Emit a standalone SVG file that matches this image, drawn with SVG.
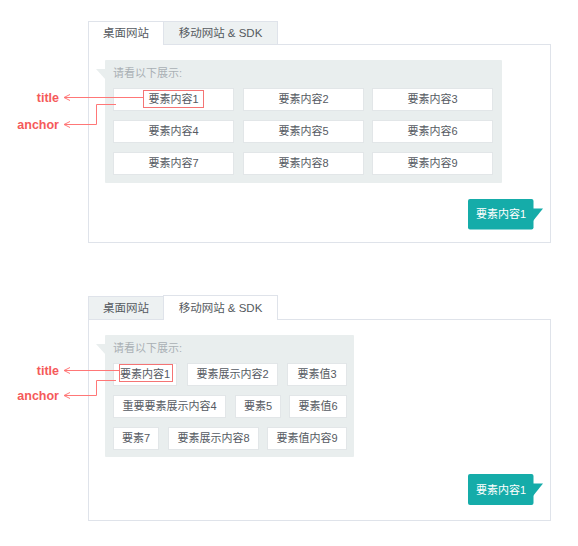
<svg xmlns="http://www.w3.org/2000/svg" width="578" height="546" viewBox="0 0 578 546">
<style>
text{font-family:"Liberation Sans","Noto Sans CJK SC",sans-serif;}
.frame{fill:#fff;stroke:#dfe3ea;stroke-width:1;}
.tabon{fill:#fff;stroke:#dfe3ea;stroke-width:1;}
.taboff{fill:#edf1f2;stroke:#dfe3ea;stroke-width:1;}
.tabt{font-size:11.5px;fill:#555a60;text-anchor:middle;}
.panel{fill:#e9eeee;}
.hint{font-size:11px;fill:#a9b0b5;}
.item{fill:#fff;stroke:#e2e6e8;stroke-width:1;}
.it{font-size:11px;fill:#555a62;text-anchor:middle;}
.hl{fill:none;stroke:#f47474;stroke-width:1;}
.btn{fill:#15aca9;}
.bt{font-size:11px;fill:#fff;text-anchor:middle;}
.lbl{font-size:12.5px;font-weight:bold;fill:#f55a5a;text-anchor:end;}
.ln{fill:none;stroke:#f77;stroke-width:1;}
</style>
<defs>
<marker id="arr" viewBox="0 0 8 8" refX="7" refY="4" markerWidth="8" markerHeight="8" markerUnits="userSpaceOnUse" orient="auto">
<path d="M1,1 L7,4 L1,7" fill="none" stroke="#f77" stroke-width="1"/>
</marker>
</defs>

<!-- Top panel -->
<g id="top-panel">
<rect class="frame" x="88.5" y="44.5" width="462" height="198"/>
<rect class="tabon" x="88.5" y="21.5" width="75" height="23"/>
<line x1="89" y1="44.5" x2="163" y2="44.5" stroke="#fff" stroke-width="1.5"/>
<rect class="taboff" x="163.5" y="21.5" width="114" height="23"/>
<text class="tabt" x="126" y="36.5">桌面网站</text>
<text class="tabt" x="220.5" y="36.5">移动网站 &amp; SDK</text>
<rect class="panel" x="105" y="60" width="397" height="123" rx="1"/>
<path class="panel" d="M96,69 L106,69 L106,80 Z"/>
<text class="hint" x="113" y="77">请看以下展示:</text>
</g>
<g id="top-item1"><rect class="item" x="113.5" y="88.5" width="120" height="22"/><text class="it" x="173.5" y="103">要素内容1</text><rect class="hl" x="143.5" y="90.5" width="60" height="17"/></g>
<g id="top-item2"><rect class="item" x="243.5" y="88.5" width="120" height="22"/><text class="it" x="303.5" y="103">要素内容2</text></g>
<g id="top-item3"><rect class="item" x="372.5" y="88.5" width="120" height="22"/><text class="it" x="432.5" y="103">要素内容3</text></g>
<g id="top-item4"><rect class="item" x="113.5" y="120.5" width="120" height="22"/><text class="it" x="173.5" y="135">要素内容4</text></g>
<g id="top-item5"><rect class="item" x="243.5" y="120.5" width="120" height="22"/><text class="it" x="303.5" y="135">要素内容5</text></g>
<g id="top-item6"><rect class="item" x="372.5" y="120.5" width="120" height="22"/><text class="it" x="432.5" y="135">要素内容6</text></g>
<g id="top-item7"><rect class="item" x="113.5" y="152.5" width="120" height="22"/><text class="it" x="173.5" y="167">要素内容7</text></g>
<g id="top-item8"><rect class="item" x="243.5" y="152.5" width="120" height="22"/><text class="it" x="303.5" y="167">要素内容8</text></g>
<g id="top-item9"><rect class="item" x="372.5" y="152.5" width="120" height="22"/><text class="it" x="432.5" y="167">要素内容9</text></g>
<g id="top-button">
<rect class="btn" x="468" y="199" width="65.5" height="30.5" rx="2"/>
<path class="btn" d="M532,208.5 L543,208.5 L533,221 Z"/>
<text class="bt" x="501" y="218">要素内容1</text>
</g>
<g id="top-title-label"><text class="lbl" x="59" y="101.5">title</text></g>
<g id="top-anchor-label"><text class="lbl" x="59" y="128.5">anchor</text></g>

<!-- Bottom panel -->
<g id="bottom-panel">
<rect class="frame" x="88.5" y="319.5" width="462" height="201"/>
<rect class="taboff" x="88.5" y="296.5" width="75" height="23"/>
<rect class="tabon" x="163.5" y="295.5" width="114" height="24"/>
<line x1="164" y1="319.5" x2="277" y2="319.5" stroke="#fff" stroke-width="1.5"/>
<text class="tabt" x="126" y="312">桌面网站</text>
<text class="tabt" x="220.5" y="312">移动网站 &amp; SDK</text>
<rect class="panel" x="105" y="335" width="249" height="122" rx="1"/>
<path class="panel" d="M96,344 L106,344 L106,355 Z"/>
<text class="hint" x="113" y="352">请看以下展示:</text>
</g>
<g id="bot-item1"><rect class="item" x="113.5" y="363.5" width="63" height="22"/><text class="it" x="145" y="378">要素内容1</text><rect class="hl" x="119.5" y="364.5" width="53" height="17"/></g>
<g id="bot-item2"><rect class="item" x="187.5" y="363.5" width="90" height="22"/><text class="it" x="232.5" y="378">要素展示内容2</text></g>
<g id="bot-item3"><rect class="item" x="287.5" y="363.5" width="59" height="22"/><text class="it" x="317" y="378">要素值3</text></g>
<g id="bot-item4"><rect class="item" x="113.5" y="395.5" width="112" height="22"/><text class="it" x="169.5" y="410">重要要素展示内容4</text></g>
<g id="bot-item5"><rect class="item" x="235.5" y="395.5" width="45" height="22"/><text class="it" x="258" y="410">要素5</text></g>
<g id="bot-item6"><rect class="item" x="289.5" y="395.5" width="57" height="22"/><text class="it" x="318" y="410">要素值6</text></g>
<g id="bot-item7"><rect class="item" x="113.5" y="427.5" width="45" height="22"/><text class="it" x="136" y="442">要素7</text></g>
<g id="bot-item8"><rect class="item" x="168.5" y="427.5" width="90" height="22"/><text class="it" x="213.5" y="442">要素展示内容8</text></g>
<g id="bot-item9"><rect class="item" x="267.5" y="427.5" width="79" height="22"/><text class="it" x="307" y="442">要素值内容9</text></g>
<g id="bottom-button">
<rect class="btn" x="468" y="474" width="65.5" height="31" rx="2"/>
<path class="btn" d="M532,483.5 L543,483.5 L533,496 Z"/>
<text class="bt" x="501" y="493.5">要素内容1</text>
</g>
<g id="bot-title-label"><text class="lbl" x="59" y="374.5">title</text></g>
<g id="bot-anchor-label"><text class="lbl" x="59" y="399.5">anchor</text></g>

<g id="connectors">
<path class="ln" d="M143,97.5 L64,97.5" marker-end="url(#arr)"/>
<path class="ln" d="M116,104.5 L96.5,104.5 L96.5,124.5 L64,124.5" marker-end="url(#arr)"/>
<path class="ln" d="M119,370.5 L64,370.5" marker-end="url(#arr)"/>
<path class="ln" d="M116,380.5 L96.5,380.5 L96.5,395.5 L64,395.5" marker-end="url(#arr)"/>
</g>
</svg>
